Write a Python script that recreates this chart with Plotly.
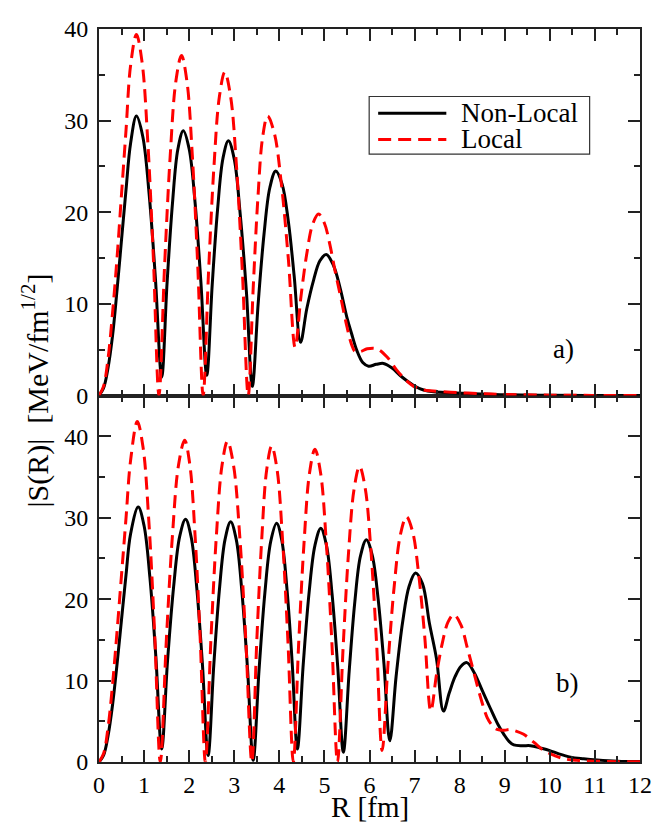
import plotly.graph_objects as go

# panel a) (top)
r_nl_a = [0, 0.1, 0.2, 0.3, 0.4, 0.5, 0.6, 0.7, 0.83, 0.97, 1.11, 1.25, 1.39,
          1.51, 1.63, 1.75, 1.87, 2.0, 2.13, 2.26, 2.39,
          2.51, 2.63, 2.75, 2.87, 3.0, 3.13, 3.27, 3.40,
          3.53, 3.66, 3.79, 3.92, 4.06, 4.2, 4.33, 4.47,
          4.61, 4.76, 4.9, 5.04, 5.2, 5.35, 5.5, 5.6, 5.72, 5.85, 5.98,
          6.15, 6.31, 6.5, 6.7, 6.98, 7.2, 7.42, 7.8, 8.3, 9.0, 10.0, 11.0, 12.0]
s_nl_a = [0, 0.8, 3.0, 6.5, 11.5, 17.0, 22.5, 27.5, 30.5, 28.3, 22.1, 12.9, 2.0,
          12.3, 21.0, 26.9, 28.9, 26.9, 21.1, 12.4, 2.2,
          12.0, 20.3, 25.9, 27.8, 25.8, 19.9, 11.3, 1.0,
          10.0, 17.6, 22.7, 24.5, 23.1, 19.0, 13.0, 5.8,
          9.5, 12.6, 14.7, 15.4, 14.2, 11.7, 8.5, 6.8, 4.9, 3.6, 3.2,
          3.4, 3.5, 3.0, 2.1, 1.1, 0.6, 0.4, 0.3, 0.2, 0.08, 0.03, 0.01, 0.0]

r_lo_a = [0, 0.1, 0.2, 0.3, 0.4, 0.5, 0.6, 0.7, 0.83, 0.955, 1.08, 1.205, 1.33,
          1.455, 1.58, 1.705, 1.83, 1.95, 2.07, 2.19, 2.31,
          2.43, 2.55, 2.67, 2.79, 2.92, 3.05, 3.18, 3.31,
          3.42, 3.525, 3.63, 3.74, 3.89, 4.045, 4.2, 4.35,
          4.48, 4.61, 4.74, 4.87, 5.0, 5.12, 5.24, 5.35, 5.5, 5.6, 5.68,
          5.8, 5.95, 6.16, 6.39, 6.6, 6.8, 6.98, 7.2, 7.42, 7.8, 8.5, 9.0, 10.0, 11.0, 12.0]
s_lo_a = [0, 1.0, 4.0, 9.0, 15.0, 22.0, 29.0, 36.0, 39.4, 36.4, 27.9, 15.1, 0,
          14.2, 26.2, 34.3, 37.1, 34.3, 26.2, 14.2, 0,
          13.5, 25.0, 32.6, 35.3, 32.6, 25.0, 13.5, 0,
          11.7, 21.6, 28.2, 30.5, 28.6, 23.1, 14.9, 5.25,
          10.8, 15.5, 18.7, 19.8, 18.8, 16.5, 13.5, 11.0, 7.5, 5.6, 4.8,
          4.8, 5.1, 5.1, 4.2, 2.8, 1.7, 1.0, 0.6, 0.5, 0.35, 0.2, 0.12, 0.04, 0.01, 0.0]

# panel b) (bottom)
r_nl_b = [0, 0.1, 0.2, 0.3, 0.4, 0.5, 0.6, 0.7, 0.87, 1.0, 1.13, 1.26, 1.39,
          1.52, 1.655, 1.79, 1.92, 2.045, 2.17, 2.295, 2.42,
          2.545, 2.67, 2.795, 2.92, 3.045, 3.17, 3.295, 3.42,
          3.55, 3.68, 3.81, 3.94, 4.055, 4.17, 4.285, 4.40,
          4.53, 4.66, 4.79, 4.92, 5.045, 5.17, 5.295, 5.42,
          5.55, 5.675, 5.8, 5.93, 6.06, 6.19, 6.32, 6.45,
          6.59, 6.735, 6.88, 7.02, 7.175, 7.33, 7.485, 7.64,
          7.77, 7.9, 8.03, 8.16, 8.32, 8.5, 8.68, 8.85, 8.98, 9.1, 9.2, 9.4, 9.57,
          9.8, 10.0, 10.2, 10.46, 10.75, 11.05, 11.5, 12.0]
s_nl_b = [0, 0.8, 3.2, 7.0, 12.0, 17.5, 23.0, 28.0, 31.3, 29.0, 22.6, 13.0, 1.6,
          12.4, 21.5, 27.7, 29.8, 27.6, 21.3, 11.9, 0.8,
          11.8, 21.1, 27.3, 29.5, 27.3, 20.9, 11.4, 0.2,
          11.3, 20.8, 27.1, 29.3, 27.2, 21.2, 12.2, 1.6,
          12.0, 20.8, 26.6, 28.7, 26.6, 20.6, 11.7, 1.2,
          11.2, 19.7, 25.3, 27.3, 25.4, 20.1, 12.1, 2.6,
          10.5, 17.2, 21.6, 23.2, 21.9, 17.0, 12.7, 6.25,
          8.5, 10.5, 11.75, 12.2, 11.0, 8.8, 6.6, 4.6, 3.4, 2.5, 2.1, 2.0, 2.0,
          1.7, 1.4, 1.0, 0.6, 0.4, 0.25, 0.1, 0.05]

r_lo_b = [0, 0.1, 0.2, 0.3, 0.4, 0.5, 0.6, 0.7, 0.85, 0.978, 1.105, 1.233, 1.36,
          1.495, 1.63, 1.765, 1.90, 2.015, 2.13, 2.245, 2.36,
          2.483, 2.605, 2.728, 2.85, 2.985, 3.12, 3.255, 3.39,
          3.5, 3.61, 3.72, 3.83, 3.95, 4.07, 4.19, 4.31,
          4.43, 4.55, 4.67, 4.79, 4.915, 5.04, 5.165, 5.29,
          5.413, 5.535, 5.658, 5.78, 5.905, 6.03, 6.155, 6.28,
          6.415, 6.55, 6.685, 6.82, 6.955, 7.09, 7.225, 7.36,
          7.488, 7.615, 7.743, 7.87, 8.03, 8.17, 8.31, 8.46, 8.61, 8.72, 8.83, 9.0, 9.1,
          9.25, 9.42, 9.65, 9.87, 10.1, 10.31, 10.6, 11.0, 11.5, 12.0]
s_lo_b = [0, 1.0, 4.2, 9.5, 16.0, 23.0, 30.0, 37.0, 41.8, 38.6, 29.6, 16.0, 0,
          15.1, 27.9, 36.5, 39.5, 36.5, 27.9, 15.1, 0,
          15.1, 27.9, 36.4, 39.4, 36.4, 27.9, 15.1, 0,
          14.9, 27.4, 35.9, 38.8, 35.9, 27.4, 14.9, 0,
          14.7, 27.1, 35.5, 38.4, 35.5, 27.1, 14.7, 0,
          13.9, 25.7, 33.5, 36.3, 33.6, 26.1, 14.8, 1.4,
          12.4, 21.7, 27.9, 30.1, 28.3, 23.1, 15.4, 6.25,
          10.8, 14.6, 17.2, 18.1, 16.8, 14.0, 11.1, 8.0, 5.45, 4.5, 4.0, 3.9, 4.0,
          3.8, 3.4, 2.4, 1.4, 0.8, 0.4, 0.2, 0.1, 0.04, 0.02]

FONT = "Liberation Serif"
BLACK = dict(color="black", width=3)
RED = dict(color="#ff0000", width=3, dash="13px,7px")

fig = go.Figure()
fig.add_trace(go.Scatter(x=r_nl_a, y=s_nl_a, mode="lines", line=BLACK, line_shape="spline",
                         name="Non-Local", xaxis="x2", yaxis="y2", showlegend=False))
fig.add_trace(go.Scatter(x=r_lo_a, y=s_lo_a, mode="lines", line=RED, line_shape="spline",
                         name="Local", xaxis="x2", yaxis="y2", showlegend=False))
fig.add_trace(go.Scatter(x=r_nl_b, y=s_nl_b, mode="lines", line=BLACK, line_shape="spline",
                         name="Non-Local", showlegend=False))
fig.add_trace(go.Scatter(x=r_lo_b, y=s_lo_b, mode="lines", line=RED, line_shape="spline",
                         name="Local", showlegend=False))

axis_common = dict(showline=True, linewidth=2, linecolor="#222", mirror="ticks",
                   ticks="inside", ticklen=12, tickwidth=1.5, tickcolor="#222",
                   showgrid=False, zeroline=False, ticklabeloverflow="allow",
                   tickfont=dict(family=FONT, size=24, color="black"))

# the page body keeps its default 8px margin, so the figure is 8px smaller than the window
fig.update_layout(
    width=660, height=814,
    margin=dict(l=91, r=28, t=8, b=60),
    plot_bgcolor="white", paper_bgcolor="white",
    xaxis=dict(range=[0, 12], dtick=1, anchor="y",
               minor=dict(dtick=0.5, ticks="inside", ticklen=6, tickcolor="#222"),
               **axis_common),
    xaxis2=dict(range=[0, 12], dtick=1, anchor="y2", matches="x", showticklabels=False,
                minor=dict(dtick=0.5, ticks="inside", ticklen=6, tickcolor="#222"),
                **axis_common),
    yaxis=dict(range=[0, 45], tickvals=[0, 10, 20, 30, 40], domain=[0, 0.5], anchor="x",
               minor=dict(tickvals=[5, 15, 25, 35], ticks="inside", ticklen=6, tickcolor="#222"),
               ticklabelstandoff=4, **axis_common),
    yaxis2=dict(range=[0, 40], dtick=10, domain=[0.5, 1], anchor="x2",
                minor=dict(dtick=5, ticks="inside", ticklen=6, tickcolor="#222"),
                ticklabelstandoff=4, **axis_common),
)

# legend drawn by hand so the line samples match the long ones of the original
fig.add_shape(type="rect", xref="paper", yref="paper", x0=0.4994, x1=0.9069, y0=0.8293, y1=0.9079,
              line=dict(color="#333", width=1.2), fillcolor="white")
fig.add_shape(type="line", xref="paper", yref="paper", x0=0.516, x1=0.642, y0=0.8851, y1=0.8851,
              line=dict(color="black", width=3))
fig.add_shape(type="line", xref="paper", yref="paper", x0=0.516, x1=0.642, y0=0.8494, y1=0.8494,
              line=dict(color="#ff0000", width=3, dash="13px,7px"))
fig.add_annotation(xref="paper", yref="paper", x=0.666, y=0.8851, text="Non-Local",
                   showarrow=False, xanchor="left", yanchor="middle",
                   font=dict(family=FONT, size=27, color="black"))
fig.add_annotation(xref="paper", yref="paper", x=0.666, y=0.8494, text="Local",
                   showarrow=False, xanchor="left", yanchor="middle",
                   font=dict(family=FONT, size=27, color="black"))

fig.add_annotation(xref="x2", yref="y2", x=10.3, y=5.1, text="a)", showarrow=False,
                   font=dict(family=FONT, size=27, color="black"))
fig.add_annotation(xref="x", yref="y", x=10.39, y=9.7, text="b)", showarrow=False,
                   font=dict(family=FONT, size=27, color="black"))

fig.add_annotation(xref="paper", yref="paper", x=0.5, y=-0.062, text="R [fm]",
                   showarrow=False, yanchor="middle",
                   font=dict(family=FONT, size=29, color="black"))
fig.add_annotation(xref="paper", yref="paper", x=-0.117, y=0.5065,
                   text="|S(R)|  [MeV/fm<sup>1/2</sup>]", textangle=-90,
                   showarrow=False, xanchor="center", yanchor="middle",
                   font=dict(family=FONT, size=30, color="black"))

fig.write_html("out.html")
